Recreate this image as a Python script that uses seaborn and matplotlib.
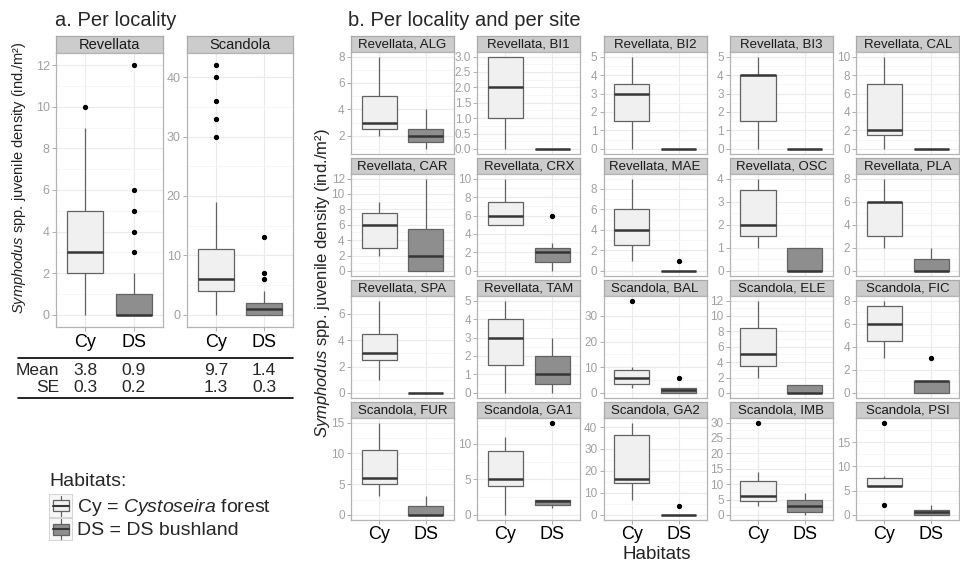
import numpy as np
import pandas as pd
import matplotlib
matplotlib.use("Agg")
import matplotlib.pyplot as plt
import seaborn as sns
from matplotlib.ticker import MultipleLocator, AutoMinorLocator, FormatStrFormatter
from matplotlib.transforms import blended_transform_factory
from matplotlib.patches import Rectangle
from matplotlib.lines import Line2D

# ---------------- data ----------------
habitats = ["Cy", "DS"]

localities = ["Revellata", "Scandola"]
loc_cy = [
    [0, 0, 1, 1, 1, 2, 2, 2, 2, 3, 3, 3, 3, 3, 4, 4, 4, 5, 5, 5, 6, 7, 8, 9, 10],
    [0, 1, 2, 3, 3, 4, 4, 4, 5, 5, 5, 6, 6, 7, 8, 9, 10, 11, 11, 19, 30, 33, 36, 40, 42],
]
loc_ds = [
    [0, 0, 0, 0, 0, 0, 0, 0, 0, 0, 0, 0, 0, 1, 1, 1, 1, 1, 1, 2, 3, 4, 5, 6, 12],
    [0, 0, 0, 0, 0, 0, 0, 0, 1, 1, 1, 1, 1, 1, 1, 2, 2, 2, 2, 2, 3, 4, 6, 7, 13],
]
mean_vals = [[3.8, 0.9], [9.7, 1.4]]
se_vals = [[0.3, 0.2], [1.3, 0.3]]

sites = ["Revellata, ALG", "Revellata, BI1", "Revellata, BI2", "Revellata, BI3", "Revellata, CAL",
         "Revellata, CAR", "Revellata, CRX", "Revellata, MAE", "Revellata, OSC", "Revellata, PLA",
         "Revellata, SPA", "Revellata, TAM", "Scandola, BAL", "Scandola, ELE", "Scandola, FIC",
         "Scandola, FUR", "Scandola, GA1", "Scandola, GA2", "Scandola, IMB", "Scandola, PSI"]
site_cy = [
    [2, 2.5, 3, 5, 8],
    [0, 1, 2, 3, 3],
    [0, 1.5, 3, 3.5, 5],
    [0, 1.5, 4, 4, 5],
    [0, 1.5, 2, 7, 10],
    [2, 3, 6, 7.5, 9],
    [5, 5, 6, 7.5, 10],
    [1, 2.5, 4, 6, 9],
    [1, 1.5, 2, 3.5, 4],
    [2, 3, 6, 6, 8],
    [1, 2.5, 3, 4.5, 7],
    [0, 1.5, 3, 4, 5],
    [2, 3, 3.5, 5, 6, 8, 9, 10, 36],
    [2, 3.5, 5, 8.5, 12],
    [3, 4.5, 6, 7.5, 8],
    [3, 5, 6, 10.5, 15],
    [0, 4, 5, 9, 11],
    [7, 14.5, 16.5, 36.5, 42],
    [3, 4, 4.5, 5, 6, 9, 11, 14, 30],
    [2, 6, 6, 6, 6, 7, 7.5, 8, 19],
]
site_ds = [
    [1, 1.5, 2, 2.5, 4],
    [0, 0, 0, 0, 0],
    [0, 0, 0, 0, 0],
    [0, 0, 0, 0, 0],
    [0, 0, 0, 0, 0],
    [0, 0, 2, 5.5, 12],
    [0, 0.5, 1, 1.5, 2, 2, 2.5, 3, 6],
    [0, 0, 0, 0, 1],
    [0, 0, 0, 1, 1],
    [0, 0, 0, 1, 2],
    [0, 0, 0, 0, 0],
    [0, 0.5, 1, 2, 3],
    [0, 0, 0, 0.5, 1, 1.5, 2, 2, 6],
    [0, 0, 0, 1, 1],
    [0, 0, 0, 1, 1, 1, 1, 1, 3],
    [0, 0, 0, 1.5, 3],
    [1, 1.2, 1.4, 1.7, 1.9, 2, 2.1, 2.1, 13],
    [0, 0, 0, 0, 4],
    [0, 1, 3, 5, 7],
    [0, 0, 0.5, 1, 2],
]
site_tick_step = [2, 0.5, 1, 1, 2, 2, 2, 2, 1, 2, 2, 1, 10, 2, 2, 5, 5, 10, 5, 5]
loc_tick_step = [2, 10]

# ---------------- style ----------------
sns.set_theme(style="white")
plt.rcParams["font.family"] = ["Liberation Sans", "DejaVu Sans"]
plt.rcParams["mathtext.fontset"] = "custom"
plt.rcParams["mathtext.rm"] = "Liberation Sans"
plt.rcParams["mathtext.it"] = "Liberation Sans:italic"

FILLS = {"Cy": "#F0F0F0", "DS": "#8E8E8E"}
LINE = "#626262"
MED = "#363636"
BORDER = "#B3B3B3"
STRIP_FILL = "#CCCCCC"
STRIP_EDGE = "#AAAAAA"
TICKLAB = "#A0A0A0"

W, H = 960, 562
fig = plt.figure(figsize=(W / 100, H / 100), dpi=100)


def add_ax(x0, y0, x1, y1):
    return fig.add_axes([x0 / W, 1 - y1 / H, (x1 - x0) / W, (y1 - y0) / H])


def strip(x0, y0, x1, y1, label, size):
    s = add_ax(x0, y0, x1, y1)
    s.set_facecolor(STRIP_FILL)
    s.set_xticks([])
    s.set_yticks([])
    for sp in s.spines.values():
        sp.set_color(STRIP_EDGE)
        sp.set_linewidth(0.9)
    s.text(0.5, 0.45, label, ha="center", va="center", fontsize=size, color="#1A1A1A",
           transform=s.transAxes)
    return s


def panel(ax, cy, ds, step, show_x, xsize, ysize):
    df = pd.DataFrame({"Habitat": ["Cy"] * len(cy) + ["DS"] * len(ds),
                       "Density": list(cy) + list(ds)})
    sns.boxplot(data=df, x="Habitat", y="Density", hue="Habitat", order=habitats,
                hue_order=habitats, palette=FILLS, saturation=1, width=0.75,
                linecolor=LINE, linewidth=0.9, showcaps=False, legend=False, ax=ax,
                medianprops=dict(color=MED, linewidth=1.8),
                flierprops=dict(marker="o", markerfacecolor="black",
                                markeredgecolor="black", markersize=2.8, linestyle="none"))
    ax.set_xlim(-0.6, 1.6)
    ax.set_xlabel("")
    ax.set_ylabel("")
    ax.yaxis.set_major_locator(MultipleLocator(step))
    ax.yaxis.set_minor_locator(AutoMinorLocator(2))
    if step < 1:
        ax.yaxis.set_major_formatter(FormatStrFormatter("%.1f"))
    else:
        ax.yaxis.set_major_formatter(FormatStrFormatter("%g"))
    ax.set_axisbelow(True)
    ax.yaxis.grid(True, which="major", color="#EBEBEB", linewidth=0.8)
    ax.yaxis.grid(True, which="minor", color="#F5F5F5", linewidth=0.6)
    ax.xaxis.grid(True, which="major", color="#EBEBEB", linewidth=0.8)
    for sp in ax.spines.values():
        sp.set_color(BORDER)
        sp.set_linewidth(0.9)
    ax.tick_params(axis="y", which="major", length=3, width=0.6, color=TICKLAB,
                   labelcolor=TICKLAB, labelsize=ysize, pad=1.5, left=True)
    ax.tick_params(axis="y", which="minor", length=0)
    if show_x:
        ax.tick_params(axis="x", length=3, width=0.6, color=TICKLAB, labelcolor="black",
                       labelsize=xsize, pad=2, bottom=True)
    else:
        ax.tick_params(axis="x", length=0, labelbottom=False)


# ---------------- panel a ----------------
a_pos = [(56, 163), (187, 293)]
a_axes = []
for k, loc in enumerate(localities):
    x0, x1 = a_pos[k]
    strip(x0, 36, x1, 53, loc, 10.5)
    ax = add_ax(x0, 53, x1, 327)
    panel(ax, loc_cy[k], loc_ds[k], loc_tick_step[k], True, 13, 9)
    a_axes.append(ax)

fig.text(55 / W, 1 - 26 / H, "a. Per locality", fontsize=14.5, va="baseline", ha="left")
ylab = r"$\it{Symphodus}$ spp. juvenile density (ind./m²)"
fig.text(19 / W, 1 - 178 / H, ylab, rotation=90, ha="center", va="center",
         fontsize=10.5, color="#222222")

# table under panel a
for yy in (358, 398):
    fig.add_artist(Line2D([18 / W, 293 / W], [1 - yy / H] * 2, color="black", lw=1.2))
fig.text(59 / W, 1 - 375 / H, "Mean", ha="right", va="baseline", fontsize=12.5)
fig.text(59 / W, 1 - 392 / H, "SE", ha="right", va="baseline", fontsize=12.5)
for k, ax in enumerate(a_axes):
    tr = blended_transform_factory(ax.transData, fig.transFigure)
    for i in range(len(habitats)):
        ax.text(i, 1 - 375 / H, f"{mean_vals[k][i]:.1f}", transform=tr, ha="center",
                va="baseline", fontsize=12.5)
        ax.text(i, 1 - 392 / H, f"{se_vals[k][i]:.1f}", transform=tr, ha="center",
                va="baseline", fontsize=12.5)

# legend
fig.text(49 / W, 1 - 486 / H, "Habitats:", fontsize=14, va="baseline", ha="left")
leg_text = [r"Cy = $\it{Cystoseira}$ forest", "DS = DS bushland"]
for i, h in enumerate(habitats):
    y0 = 494 + i * 23.5
    kax = add_ax(49, y0, 73, y0 + 23.5)
    kax.set_xlim(0, 1)
    kax.set_ylim(0, 1)
    kax.axis("off")
    kax.add_patch(Rectangle((0, 0), 1, 1, facecolor="#F7F7F7", edgecolor="#CFCFCF", lw=1.2))
    kax.add_patch(Rectangle((0.15, 0.27), 0.7, 0.46, facecolor=FILLS[h], edgecolor=LINE, lw=0.9))
    kax.plot([0.15, 0.85], [0.5, 0.5], color=MED, lw=1.5)
    kax.plot([0.5, 0.5], [0.08, 0.27], color=LINE, lw=0.9)
    kax.plot([0.5, 0.5], [0.73, 0.92], color=LINE, lw=0.9)
    fig.text(77 / W, 1 - (512 + i * 23) / H, leg_text[i], fontsize=14, va="baseline", ha="left")

# ---------------- panel b ----------------
ncol = 5
for idx, name in enumerate(sites):
    r, c = divmod(idx, ncol)
    x0 = 351 + c * 126.3
    x1 = x0 + 103
    st = 36 + r * 122
    strip(x0, st, x1, st + 16, name, 9.5)
    ax = add_ax(x0, st + 16, x1, st + 117.5)
    panel(ax, site_cy[idx], site_ds[idx], site_tick_step[idx], r == 3, 13, 8.5)

fig.text(348 / W, 1 - 26 / H, "b. Per locality and per site", fontsize=14.5,
         va="baseline", ha="left")
fig.text(323 / W, 1 - 283 / H, ylab, rotation=90, ha="center", va="center",
         fontsize=12, color="#222222")
fig.text(657 / W, 1 - 559 / H, "Habitats", fontsize=13.5, ha="center", va="baseline",
         color="#222222")

fig.savefig("out.png", dpi=100)
